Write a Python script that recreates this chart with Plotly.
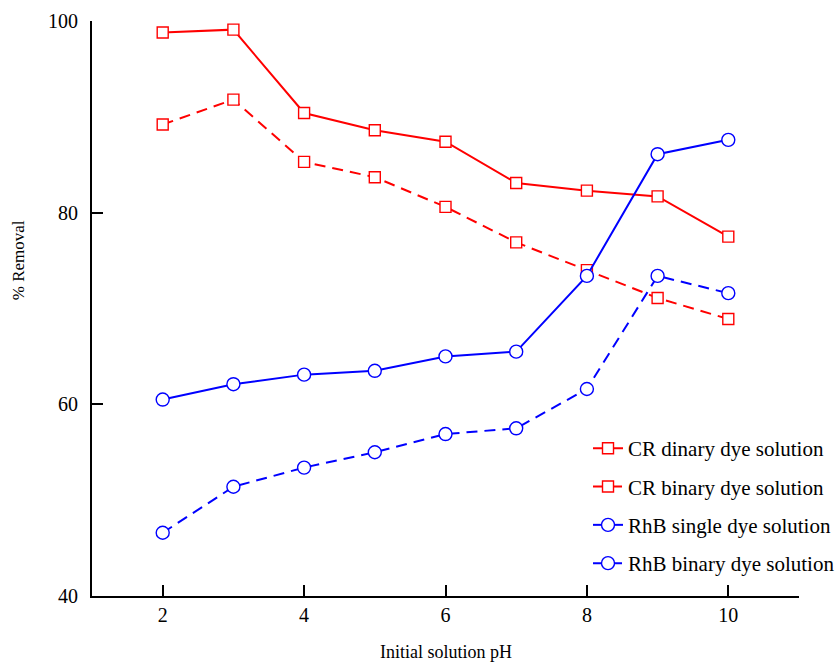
import plotly.graph_objects as go

ph = [2, 3, 4, 5, 6, 7, 8, 9, 10]
cr_dinary = [98.8, 99.1, 90.4, 88.6, 87.4, 83.1, 82.3, 81.7, 77.5]
cr_binary = [89.2, 91.8, 85.3, 83.7, 80.6, 76.9, 74.0, 71.1, 68.9]
rhb_single = [60.5, 62.1, 63.1, 63.5, 65.0, 65.5, 73.4, 86.1, 87.6]
rhb_binary = [46.6, 51.4, 53.4, 55.0, 56.9, 57.5, 61.6, 73.4, 71.6]

names = ["CR dinary dye solution", "CR binary dye solution",
         "RhB single dye solution", "RhB binary dye solution"]
series = [cr_dinary, cr_binary, rhb_single, rhb_binary]
colors = ["#ff0000", "#ff0000", "#0000ff", "#0000ff"]
dashes = ["solid", "11px,7px", "solid", "11px,7px"]
symbols = ["square", "square", "circle", "circle"]
sizes = [11, 11, 13, 13]

FONT = "Liberation Serif"

fig = go.Figure()
for i, (nm, ys) in enumerate(zip(names, series)):
    fig.add_trace(go.Scatter(
        x=ph, y=ys, name=nm, mode="lines+markers",
        legendgroup=f"g{i}",
        line=dict(color=colors[i], width=2, dash=dashes[i]),
        marker=dict(symbol=symbols[i], size=sizes[i],
                    color="white", line=dict(color=colors[i], width=1.4)),
    ))

fig.update_layout(
    width=839, height=662,
    margin=dict(l=92, r=0, t=21, b=66, autoexpand=False),
    paper_bgcolor="white", plot_bgcolor="white",
    font=dict(family=FONT, size=20, color="black"),
    showlegend=True,
    legend=dict(x=0.664, y=0.292, xanchor="left", yanchor="top",
                bgcolor="rgba(0,0,0,0)", font=dict(size=21, family=FONT),
                tracegroupgap=8),
    xaxis=dict(range=[1, 11], tickvals=[2, 4, 6, 8, 10], showline=True,
               domain=[0, 707 / 747],
               linecolor="black", linewidth=2, ticks="inside", ticklen=11,
               tickwidth=2, tickcolor="black", showgrid=False, zeroline=False,
               tickfont=dict(size=20, family=FONT)),
    yaxis=dict(range=[40, 100], tickvals=[40, 60, 80, 100], showline=True,
               linecolor="black", linewidth=2, ticks="inside", ticklen=11,
               tickwidth=2, tickcolor="black", showgrid=False, zeroline=False,
               tickfont=dict(size=20, family=FONT), ticklabelstandoff=8),
    annotations=[
        dict(text="Initial solution pH", xref="paper", yref="paper",
             x=353.5 / 747, y=-0.097, xanchor="center", yanchor="middle",
             showarrow=False, font=dict(size=18, family=FONT)),
        dict(text="% Removal", xref="paper", yref="paper",
             x=-74 / 747, y=0.584, xanchor="center", yanchor="middle",
             textangle=-90, showarrow=False, font=dict(size=17, family=FONT)),
    ],
)

fig.write_html("out.html")
